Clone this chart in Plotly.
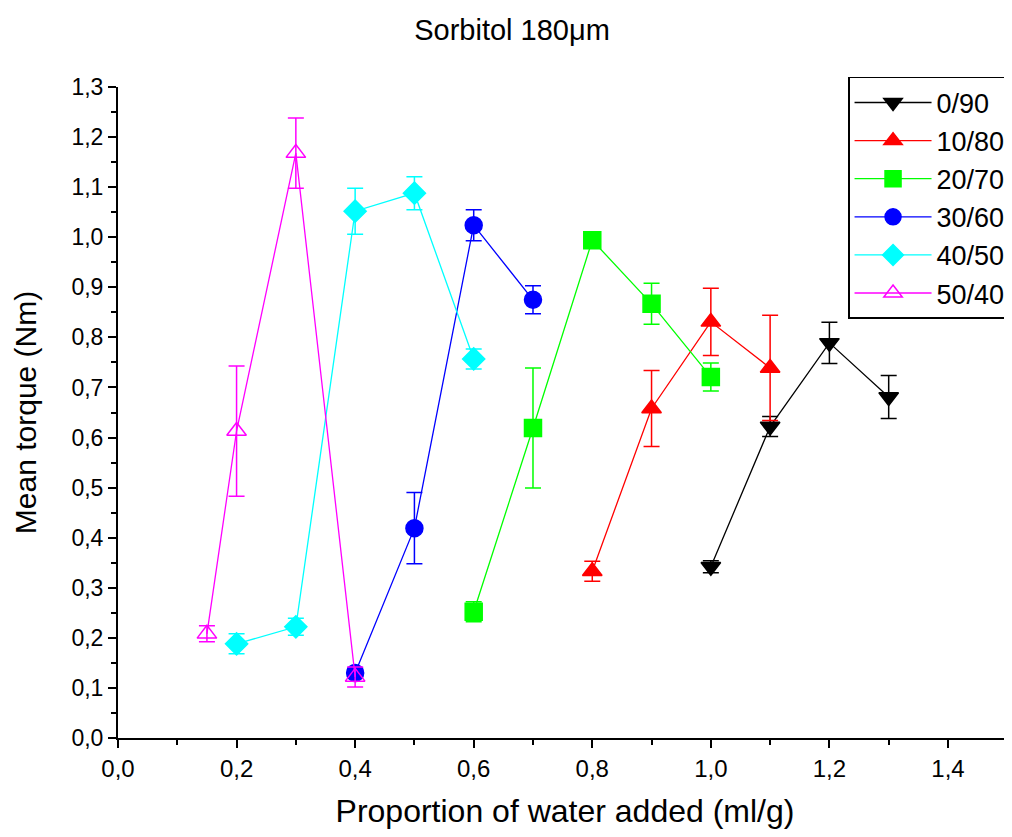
import plotly.graph_objects as go

names = ["0/90", "10/80", "20/70", "30/60", "40/50", "50/40"]
x_090 = [1.0, 1.1, 1.2, 1.3]
y_090 = [0.342, 0.622, 0.789, 0.681]
e_090 = [0.012, 0.02, 0.041, 0.043]

x_1080 = [0.8, 0.9, 1.0, 1.1]
y_1080 = [0.333, 0.658, 0.831, 0.739]
e_1080 = [0.02, 0.076, 0.067, 0.105]

x_2070 = [0.6, 0.7, 0.8, 0.9, 1.0]
y_2070 = [0.252, 0.619, 0.994, 0.867, 0.721]
e_2070 = [0.02, 0.12, 0.01, 0.041, 0.028]

x_3060 = [0.4, 0.5, 0.6, 0.7]
y_3060 = [0.13, 0.419, 1.024, 0.875]
e_3060 = [0.01, 0.071, 0.031, 0.028]

x_4050 = [0.2, 0.3, 0.4, 0.5, 0.6]
y_4050 = [0.188, 0.222, 1.052, 1.088, 0.757]
e_4050 = [0.02, 0.017, 0.046, 0.033, 0.02]

x_5040 = [0.15, 0.2, 0.3, 0.4]
y_5040 = [0.208, 0.613, 1.168, 0.122]
e_5040 = [0.016, 0.13, 0.07, 0.02]

x_tick_vals = [0, 0.2, 0.4, 0.6, 0.8, 1.0, 1.2, 1.4]
x_tick_text = ["0,0", "0,2", "0,4", "0,6", "0,8", "1,0", "1,2", "1,4"]
y_tick_vals = [i / 10 for i in range(14)]
y_tick_text = ["0,0", "0,1", "0,2", "0,3", "0,4", "0,5", "0,6", "0,7",
               "0,8", "0,9", "1,0", "1,1", "1,2", "1,3"]

series = [
    (x_090, y_090, e_090, "#000000", "triangle-down"),
    (x_1080, y_1080, e_1080, "#FF0000", "triangle-up"),
    (x_2070, y_2070, e_2070, "#00FF00", "square"),
    (x_3060, y_3060, e_3060, "#0000FF", "circle"),
    (x_4050, y_4050, e_4050, "#00FFFF", "diamond"),
    (x_5040, y_5040, e_5040, "#FF00FF", "triangle-up-open"),
]

fig = go.Figure()
for name, (xs, ys, es, col, sym) in zip(names, series):
    fig.add_trace(go.Scatter(
        x=xs, y=ys, name=name, mode="lines+markers",
        line=dict(color=col, width=1.3),
        marker=dict(symbol=sym, size=17, color=col,
                    line=dict(color=col, width=1.5)),
        error_y=dict(type="data", array=es, visible=True, color=col,
                     thickness=1.5, width=8),
    ))

font_family = "Liberation Sans, Arial, sans-serif"
fig.update_layout(
    width=1004, height=821,
    margin=dict(l=110, r=0, t=79, b=91),
    plot_bgcolor="white", paper_bgcolor="white",
    font=dict(family=font_family, color="black"),
    title=dict(text="Sorbitol 180μm", x=0.502, xref="container", xanchor="center",
               y=0.973, yref="container", yanchor="middle",
               font=dict(size=29, family=font_family)),
    showlegend=True,
    legend=dict(x=0.8166, y=1.0154, xanchor="left", yanchor="top",
                bordercolor="black", borderwidth=1.5, bgcolor="white",
                font=dict(size=27, family=font_family), itemwidth=77,
                tracegroupgap=0),
)
fig.update_xaxes(
    range=[0, 1.508], showgrid=False, zeroline=False,
    showline=True, linecolor="black", linewidth=2,
    ticks="outside", ticklen=8, tickwidth=2, tickcolor="black",
    tickvals=x_tick_vals, ticktext=x_tick_text,
    tickfont=dict(size=24),
    minor=dict(tickvals=[0.1, 0.3, 0.5, 0.7, 0.9, 1.1, 1.3, 1.5],
               ticks="outside", ticklen=5, tickwidth=2, tickcolor="black"),
    title=dict(text="Proportion of water added (ml/g)", font=dict(size=32), standoff=26),
)
fig.update_yaxes(
    range=[0, 1.3], showgrid=False, zeroline=False,
    showline=True, linecolor="black", linewidth=2,
    ticks="outside", ticklen=8, tickwidth=2, tickcolor="black",
    tickvals=y_tick_vals, ticktext=y_tick_text,
    tickfont=dict(size=23),
    minor=dict(tickvals=[i / 10 + 0.05 for i in range(13)],
               ticks="outside", ticklen=5, tickwidth=2, tickcolor="black"),
    title=dict(text="Mean torque (Nm)", font=dict(size=30), standoff=26),
)

fig.write_html("out.html")
